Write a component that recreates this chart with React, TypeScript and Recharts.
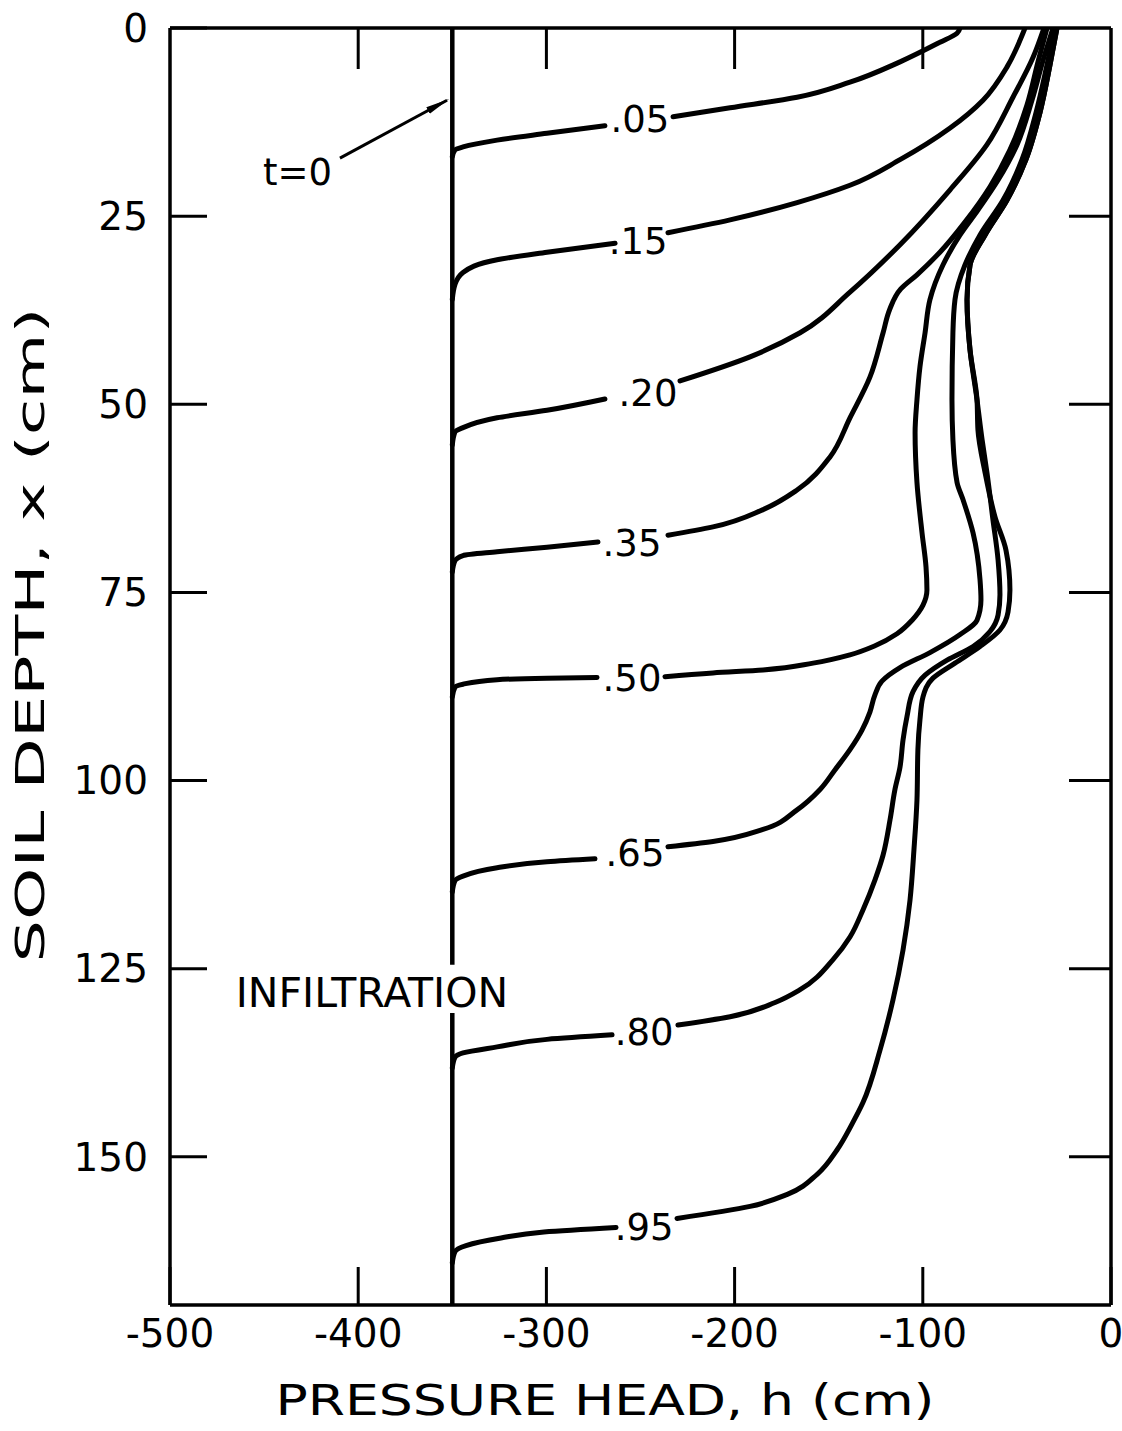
import { LineChart, Line, XAxis, YAxis, ReferenceDot } from 'recharts';

// Pressure head profiles during infiltration, h (cm) vs soil depth x (cm)
type Pt = [number, number] | null; // null = break in the line (where a label sits)

const FONT = 'DejaVu Sans';

const hTicks = [-500, -400, -300, -200, -100, 0];
const depthTicks = [0, 25, 50, 75, 100, 125, 150];
const topTicks = [-400, -300, -200, -100];
const rightTicks = [25, 50, 75, 100, 125, 150];

// initial condition, broken where the INFILTRATION text crosses it
const curveT0: Pt[] = [[-350, 0], [-350, 124.5], null, [-350, 130.9], [-350, 169.7]];

const curve05: Pt[] = [
  [-350, 17.1], [-348.6, 16.2], [-344.3, 15.8], [-326.2, 14.9], [-299.7, 14.0], [-268.9, 13.0], null,
  [-232.7, 11.8], [-202.4, 10.6], [-166.8, 9.2], [-138.7, 7.2], [-112.1, 4.5], [-90.9, 1.9], [-81.8, 0.7], [-80.2, 0],
];

const curve15: Pt[] = [
  [-350, 36.1], [-348.6, 34.1], [-344.3, 32.5], [-326.2, 30.8], [-299.7, 29.8], [-263.5, 28.6], null,
  [-235.4, 27.2], [-202.4, 25.5], [-166.8, 23.2], [-138.7, 20.9], [-112.1, 17.5], [-85.5, 13.3], [-68.0, 9.6],
  [-55.3, 5.2], [-46.8, 0.7], [-45.7, 0],
];

const curve20: Pt[] = [
  [-350, 55.4], [-348.6, 53.7], [-344.3, 53.1], [-326.2, 51.8], [-299.7, 50.8], [-268.9, 49.3], null,
  [-229.0, 46.9], [-191.8, 43.7], [-165.2, 40.5], [-138.7, 35.1], [-112.1, 28.8], [-85.5, 21.5], [-65.9, 15.5],
  [-52.1, 9.2], [-41.4, 3.9], [-35.6, 0],
];

const curve35: Pt[] = [
  [-350, 72.3], [-348.6, 70.8], [-344.3, 70.1], [-326.2, 69.6], [-299.7, 69.0], [-272.6, 68.3], null,
  [-235.4, 67.4], [-211.5, 66.3], [-184.9, 64.0], [-166.8, 61.4], [-149.3, 57.0], [-138.7, 51.8], [-128.1, 46.4],
  [-121.1, 40.5], [-117.6, 37.4], [-111.8, 34.7], [-103.1, 32.8], [-90.9, 29.8], [-77.6, 25.8], [-64.3, 21.1],
  [-53.7, 16.2], [-44.6, 10.2], [-38.8, 4.5], [-34.0, 0],
];

const curve50: Pt[] = [
  [-350, 88.9], [-348.6, 87.6], [-344.3, 87.2], [-326.2, 86.6], [-299.7, 86.4], [-273.1, 86.3], null,
  [-237.0, 86.2], [-211.5, 85.7], [-184.9, 85.3], [-158.3, 84.4], [-138.7, 83.3], [-125.4, 82.1], [-113.7, 80.5],
  [-105.7, 78.7], [-99.9, 76.7], [-97.8, 74.7], [-98.3, 71.6], [-100.4, 67.1], [-103.1, 60.4], [-104.1, 53.8],
  [-103.1, 49.4], [-101.5, 45.0], [-98.8, 40.5], [-96.2, 36.1], [-89.3, 31.5], [-80.2, 27.5], [-70.7, 24.2],
  [-60.0, 20.2], [-49.9, 15.5], [-42.0, 9.6], [-36.1, 4.3], [-30.8, 0],
];

const curve65: Pt[] = [
  [-350, 114.8], [-348.6, 113.3], [-344.3, 112.7], [-326.2, 111.6], [-299.7, 110.8], [-274.2, 110.4], null,
  [-235.4, 108.8], [-211.5, 108.1], [-184.9, 106.5], [-166.8, 103.9], [-154.6, 101.2], [-146.7, 98.6],
  [-138.7, 95.9], [-132.3, 93.3], [-128.1, 90.9], [-125.4, 88.6], [-121.7, 86.8], [-112.1, 85.0], [-96.2, 83.0],
  [-80.2, 80.6], [-71.2, 78.7], [-69.1, 76.0], [-69.6, 73.3], [-73.3, 67.1], [-78.6, 62.7], [-81.8, 60.4],
  [-84.0, 54.7], [-84.5, 49.4], [-84.0, 40.5], [-82.9, 36.1], [-77.6, 31.5], [-69.6, 27.5], [-57.4, 22.9],
  [-47.3, 17.5], [-39.8, 11.2], [-34.0, 4.9], [-29.8, 0],
];

const curve80: Pt[] = [
  [-350, 138.2], [-348.6, 136.8], [-344.3, 136.2], [-326.2, 135.4], [-299.7, 134.4], [-265.1, 133.8], null,
  [-230.1, 132.5], [-202.4, 131.4], [-178.5, 129.5], [-165.2, 127.8], [-147.7, 123.8], [-138.7, 120.8],
  [-131.8, 117.2], [-125.4, 113.2], [-121.1, 109.9], [-117.4, 105.2], [-114.8, 101.2], [-112.1, 98.2],
  [-110.5, 94.6], [-108.4, 91.5], [-105.2, 88.2], [-98.8, 86.0], [-87.1, 84.0], [-73.3, 82.2], [-64.3, 80.2],
  [-60.0, 78.0], [-59.0, 75.3], [-60.0, 70.7], [-62.7, 65.4], [-65.9, 59.1], [-68.5, 54.7], [-71.2, 49.4],
  [-74.9, 42.8], [-76.5, 36.1], [-74.9, 31.5], [-66.9, 27.5], [-55.3, 22.9], [-45.2, 17.5], [-37.7, 11.2],
  [-32.4, 4.9], [-28.7, 0],
];

const curve95: Pt[] = [
  [-350, 164.1], [-348.6, 162.6], [-342.7, 161.8], [-324.1, 160.8], [-301.3, 160.0], [-263.0, 159.4], null,
  [-230.6, 158.2], [-191.8, 156.6], [-172.0, 155.0], [-156.0, 152.3], [-145.6, 149.1], [-137.5, 145.6],
  [-131.8, 142.8], [-122.7, 135.8],
  [-115.8, 129.1], [-110.5, 122.5], [-106.8, 115.9], [-104.7, 109.2], [-103.1, 102.6], [-102.6, 95.9],
  [-101.5, 91.9], [-99.9, 88.9], [-94.6, 86.4], [-82.9, 84.4], [-69.6, 82.2], [-59.0, 80.0], [-54.7, 77.6],
  [-53.7, 74.7], [-55.8, 69.4], [-61.6, 65.0], [-66.9, 59.1], [-70.7, 53.4], [-71.2, 49.4], [-74.9, 42.8],
  [-76.5, 36.1], [-74.9, 31.5], [-66.9, 27.5], [-55.3, 22.9], [-45.2, 17.5], [-37.7, 11.2], [-32.4, 4.9],
  [-28.7, 0],
];

const curves = [curve05, curve15, curve20, curve35, curve50, curve65, curve80, curve95];

// time labels written into the gaps of the curves
const curveLabels = ['.05', '.15', '.20', '.35', '.50', '.65', '.80', '.95'];
const labelH = [-250.3, -251.3, -246.0, -254.5, -254.5, -252.9, -248.1, -248.1];
const labelDepth = [12.1, 28.3, 48.5, 68.4, 86.4, 109.6, 133.4, 159.3];

// "t=0" callout
const arrowLine: Pt[] = [[-409.7, 17.3], [-352.8, 9.6]];
const t0Label = { text: 't=0', h: -432.3, d: 19.1 };
const infiltrationLabel = { text: 'INFILTRATION', h: -392.7, d: 128.1 };

const toData = (pts: Pt[]) => pts.map((p) => (p ? { h: p[0], d: p[1] } : { h: null, d: null }));

// tick marks without text (top and right sides of the frame)
const NoText = () => <g />;

const XTitle = (props: any) => {
  const vb = props.viewBox || { x: 170, y: 1305, width: 941, height: 126 };
  const cx = vb.x + vb.width / 2 - 35.5;
  const cy = vb.y + 95;
  return (
    <text x={cx} y={cy} textAnchor="middle" dominantBaseline="central" fontFamily={FONT} fontSize={42}
      fill="#000" textLength={659} lengthAdjust="spacingAndGlyphs">
      PRESSURE HEAD, h (cm)
    </text>
  );
};

const YTitle = (props: any) => {
  const vb = props.viewBox || { x: 0, y: 28, width: 170, height: 1277 };
  const cx = vb.x + 30;
  const cy = vb.y + vb.height / 2 - 31.5;
  return (
    <text x={cx} y={cy} transform={`rotate(-90 ${cx} ${cy})`} textAnchor="middle" dominantBaseline="central"
      fontFamily={FONT} fontSize={39} fill="#000" textLength={655} lengthAdjust="spacingAndGlyphs">
      SOIL DEPTH, x (cm)
    </text>
  );
};

export default function App() {
  const axisLine = { stroke: '#000', strokeWidth: 3.5 };
  const tickLine = { stroke: '#000', strokeWidth: 3 };
  const tickFont = { fill: '#000', fontSize: 39, fontFamily: FONT };

  return (
    <div style={{ position: 'absolute', left: 0, top: 0, width: 1122, height: 1431, background: '#fff' }}>
      <LineChart width={1122} height={1431} margin={{ top: 27, right: 10, left: 0, bottom: 0 }}>
        <defs>
          <marker id="arrowHead" viewBox="0 0 10 10" refX="9" refY="5" markerWidth="24" markerHeight="9"
            markerUnits="userSpaceOnUse" orient="auto" preserveAspectRatio="none">
            <path d="M0,1 L10,5 L0,9 z" fill="#000" />
          </marker>
        </defs>

        <XAxis xAxisId="b" dataKey="h" type="number" domain={[-500, 0]} ticks={hTicks} interval={0}
          allowDataOverflow tickSize={-38} tickMargin={52} height={126} axisLine={axisLine} tickLine={tickLine}
          tick={tickFont} label={XTitle} />
        <XAxis xAxisId="t" dataKey="h" orientation="top" type="number" domain={[-500, 0]} ticks={topTicks}
          interval={0} allowDataOverflow tickSize={-41} height={1} axisLine={axisLine} tickLine={tickLine}
          tick={NoText} />
        <YAxis yAxisId="l" type="number" domain={[0, 169.7]} reversed ticks={depthTicks} interval={0}
          allowDataOverflow tickSize={-37} tickMargin={59} width={170} axisLine={axisLine} tickLine={tickLine}
          tick={tickFont} label={YTitle} />
        <YAxis yAxisId="r" orientation="right" type="number" domain={[0, 169.7]} reversed ticks={rightTicks}
          interval={0} allowDataOverflow tickSize={-42} width={1} axisLine={axisLine} tickLine={tickLine}
          tick={NoText} />

        {/* t = 0 profile, tied to the top and right axes so that they are drawn */}
        <Line xAxisId="t" yAxisId="r" data={toData(curveT0)} dataKey="d" type="linear" stroke="#000"
          strokeWidth={4.5} dot={false} activeDot={false} isAnimationActive={false} />

        {curves.map((c, i) => (
          <Line key={curveLabels[i]} xAxisId="b" yAxisId="l" data={toData(c)} dataKey="d" type="monotoneY"
            stroke="#000" strokeWidth={5} strokeLinecap="round" dot={false} activeDot={false}
            isAnimationActive={false} />
        ))}

        <Line xAxisId="b" yAxisId="l" data={toData(arrowLine)} dataKey="d" type="linear" stroke="#000"
          strokeWidth={3} markerEnd="url(#arrowHead)" dot={false} activeDot={false} isAnimationActive={false} />

        {curveLabels.map((t, i) => (
          <ReferenceDot key={'lbl' + t} xAxisId="b" yAxisId="l" x={labelH[i]} y={labelDepth[i]} r={0}
            fill="none" stroke="none"
            label={{ value: t, position: 'center', fill: '#000', fontSize: 37, fontFamily: FONT }} />
        ))}

        <ReferenceDot xAxisId="b" yAxisId="l" x={t0Label.h} y={t0Label.d} r={0} fill="none" stroke="none"
          label={{ value: t0Label.text, position: 'center', fill: '#000', fontSize: 37, fontFamily: FONT }} />
        <ReferenceDot xAxisId="b" yAxisId="l" x={infiltrationLabel.h} y={infiltrationLabel.d} r={0}
          fill="none" stroke="none"
          label={{ value: infiltrationLabel.text, position: 'center', fill: '#000', fontSize: 41, fontFamily: FONT }} />
      </LineChart>
    </div>
  );
}
